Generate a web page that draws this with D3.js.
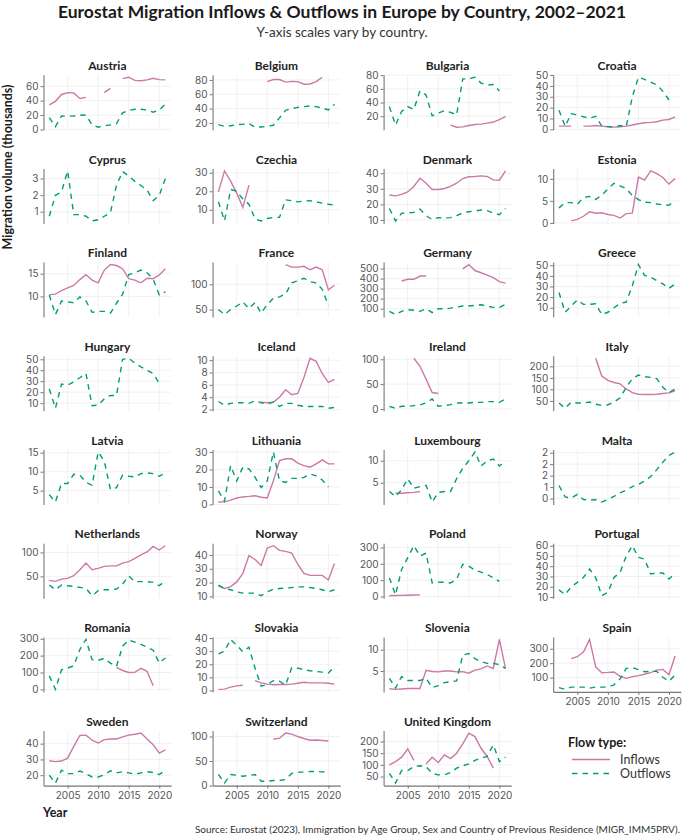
<!DOCTYPE html>
<html>
<head>
<meta charset="utf-8">
<script src="https://cdn.jsdelivr.net/npm/d3@7"></script>
<style>
	body { margin: 0; background: #fff; }
	svg text { font-family: Lato, "Noto Sans", sans-serif; }
</style>
</head>
<body>
<svg id="chart"></svg>
<script>
/* global d3 */

// Years 2002-2021, one value per year, null = no data.
const years = d3.range( 2002, 2022 );
const xTicks = [ 2005, 2010, 2015, 2020 ];

const countries = [
	'Austria', 'Belgium', 'Bulgaria', 'Croatia',
	'Cyprus', 'Czechia', 'Denmark', 'Estonia',
	'Finland', 'France', 'Germany', 'Greece',
	'Hungary', 'Iceland', 'Ireland', 'Italy',
	'Latvia', 'Lithuania', 'Luxembourg', 'Malta',
	'Netherlands', 'Norway', 'Poland', 'Portugal',
	'Romania', 'Slovakia', 'Slovenia', 'Spain',
	'Sweden', 'Switzerland', 'United Kingdom',
];

const _ = null;

const inflows = {
	Austria: [ 34, 39, 48.5, 51, 50.5, 43, 44.5, _, _, 51, 57, _, 70.5, 72.4, 68, 67.5, 68.7, 71, 69, 68.7 ],
	Belgium: [ _, _, _, _, _, _, _, _, 77.6, 80.5, 80.5, 77, 78, 77.6, 74, 74.3, 77.6, 83.8, _, _ ],
	Bulgaria: [ _, _, _, _, _, _, _, _, _, _, 7, 4, 4.5, 6.5, 8, 8.5, 10, 11.5, 15, 19.6 ],
	Croatia: [ 3, 3, 3, _, 3, 3, 3.6, 3, 2.4, 2.1, 2.4, 3, 4, 5.2, 6.1, 6.4, 7, 8.5, 9.1, 11.6 ],
	Cyprus: [ _, _, _, _, _, _, _, _, _, _, _, _, _, _, _, _, _, _, _, _ ],
	Czechia: [ 19.7, 31, 25.5, 19, 11.3, 23.3, _, _, _, _, _, _, _, _, _, _, _, _, _, _ ],
	Denmark: [ 26, 25.5, 26.4, 28, 31.5, 36.8, 33.6, 29.6, 29.6, 30.2, 31.5, 33.6, 36.6, 37.7, 37.9, 38.3, 37.9, 35.7, 35.5, 41.5 ],
	Estonia: [ _, _, 0.45, 0.8, 1.5, 2.5, 2.2, 2.3, 1.9, 1.7, 1.1, 2.1, 2.2, 10.4, 9.7, 11.8, 11.2, 10.3, 8.8, 10.1 ],
	Finland: [ 10.4, 10.5, 11.3, 11.9, 12.4, 13.7, 14.8, 13.6, 13, 15.8, 17, 16.8, 16.1, 13.9, 13.6, 13, 14, 13.9, 14.7, 16.1 ],
	France: [ _, _, _, _, _, _, _, _, _, _, _, 139, 134, 134, 135.6, 128.8, 134, 128.8, 89, 98 ],
	Germany: [ _, _, 376, 393, 393, 425, 425, _, _, _, _, _, 497, 539, 480, 458, 435, 409, 370, 354 ],
	Greece: [ _, _, _, _, _, _, _, _, _, _, _, _, _, _, _, _, _, _, _, _ ],
	Hungary: [ _, _, _, _, _, _, _, _, _, _, _, _, _, _, _, _, _, _, _, _ ],
	Iceland: [ _, _, _, _, _, _, _, 3.2, 3.1, 3.2, 4, 5.2, 4.4, 4.6, 7.2, 10.3, 9.8, 7.8, 6.4, 6.9 ],
	Ireland: [ _, _, _, _, 102, 86, 60, 33, 31, _, _, _, _, _, _, _, _, _, _, _ ],
	Italy: [ _, _, _, _, _, _, 235, 158, 139, 130, 124, 102, 86, 79, 78, 78, 79, 82, 85, 94 ],
	Latvia: [ _, _, _, _, _, _, _, _, _, _, _, _, _, _, _, _, _, _, _, _ ],
	Lithuania: [ 1.4, 1.5, 2.5, 3.7, 4.3, 4.6, 5, 4.1, 3.7, 13.5, 25.1, 26.1, 26.1, 23.6, 22.2, 21.3, 23.2, 25.5, 23.2, 23.2 ],
	Luxembourg: [ _, 2.6, 2.6, 2.7, 2.8, 3, _, _, _, _, _, _, _, _, _, _, _, _, _, _ ],
	Malta: [ _, _, _, _, _, _, _, _, _, _, _, _, _, _, _, _, _, _, _, _ ],
	Netherlands: [ 41.7, 39.6, 44.4, 45.8, 51.4, 64, 77.8, 64, 66.7, 70.8, 72, 72, 77.8, 80.6, 87.5, 95, 101, 112.5, 105, 114 ],
	Norway: [ 17.6, 15.7, 17.1, 20.5, 26.7, 39.5, 36.7, 32.4, 45, 46.7, 43.3, 42.6, 41.4, 33.1, 26.7, 25.2, 25.2, 25.2, 21.9, 33.8 ],
	Poland: [ 5, 6, 7, 8, 9, 10, _, _, _, _, _, _, _, _, _, _, _, _, _, _ ],
	Portugal: [ _, _, _, _, _, _, _, _, _, _, _, _, _, _, _, _, _, _, _, _ ],
	Romania: [ _, _, _, _, _, _, _, _, _, _, _, 130, 112, 100, 101, 125, 107, 22, _, _ ],
	Slovakia: [ 0.8, 1, 2.5, 3.5, 4, _, 7.5, 5.8, 4.8, 4.3, 4.5, 4.5, 4.8, 5.5, 6.3, 5.8, 5.8, 5.8, 5.5, 4.8 ],
	Slovenia: [ 0.85, 0.7, 0.8, 0.9, 0.9, 0.9, 5.15, 4.9, 4.8, 5, 5, 4.8, 4.85, 4.5, 5.2, 5.5, 6.2, 5.6, 12.4, 5.6 ],
	Spain: [ _, _, 232, 245, 277, 365, 175, 134, 136, 139, 109, 95, 107, 114, 123, 134, 152, 157, 120, 250 ],
	Sweden: [ 29.2, 28.6, 29, 30.8, 38.3, 45.2, 45.4, 42.2, 40.4, 42.6, 43, 43, 44.3, 45.4, 46, 46.7, 43, 39.4, 34, 36.1 ],
	Switzerland: [ _, _, _, _, _, _, _, _, _, 94.5, 96.6, 107, 105, 100, 96, 92.5, 93, 92, 91, _ ],
	'United Kingdom': [ 100, 114, 133, 169, 119, _, 104, 133, 110, 143, 127, 150, 190, 236, 221, 171, 136, 86, _, _ ],
};

const outflows = {
	Austria: [ 16.5, 4, 18.8, 18.3, 18.8, 19.7, 20, 6.4, 3.2, 5, 6.4, 8.2, 23, 26.5, 28, 28, 27, 24, 27, 35 ],
	Belgium: [ 17.6, 15.3, 16, 17.6, 18, 19, 14, 14.3, 15.3, 16.7, 27, 37.5, 40, 41.7, 42.7, 43.6, 42.7, 40.8, 38, 46 ],
	Bulgaria: [ 34, 7, 27, 34, 29.7, 57, 51, 20.6, 24.6, 28, 25.7, 22, 74.5, 74.5, 77, 68.4, 65.4, 66.4, 57, _ ],
	Croatia: [ 17.7, 2.7, 14.6, 13, 11.6, 10.4, 12, 3, 2.5, 2, 3.5, 2.5, 30, 48, 46, 43.5, 41, 35, 27, _ ],
	Cyprus: [ 0.73, 1.99, 2.2, 3.46, 0.83, 0.83, 0.73, 0.45, 0.52, 0.73, 0.94, 2.6, 3.42, 3.15, 2.83, 2.58, 2.3, 1.67, 2, 3 ],
	Czechia: [ 14.3, 4, 21, 20, 15.8, 13, 5, 4, 5.3, 5.9, 5.9, 15.4, 14.9, 14.3, 14.7, 14.9, 14.3, 13.6, 13, 12.5 ],
	Denmark: [ 17.4, 9.4, 14.3, 14.5, 14.9, 17, 12.8, 10.2, 11.5, 11.3, 11.5, 12.8, 14.5, 15.3, 15.7, 16.4, 16, 14.5, 13.4, 17.4 ],
	Estonia: [ 3.4, 4.6, 4.6, 4.2, 5.8, 6, 5.3, 6.3, 7.7, 9, 8.4, 7.8, 6.2, 5.3, 4.7, 4.6, 4.3, 4.1, 4, 5.1 ],
	Finland: [ 10.3, 6, 9, 8.8, 8.6, 9.9, 9, 6.5, 6.7, 6.7, 6.3, 8.5, 10.5, 14.8, 15.2, 15.8, 15.2, 13.8, 10.3, 11 ],
	France: [ 50, 40, 50, 57, 65, 52, 64, 43, 60, 72.6, 75, 81, 103, 107, 112, 105, 103, 90, 58, _ ],
	Germany: [ 74, 41, 74, 90, 84, 74, 100, 61, 100, 100, 106, 116, 126, 126, 132, 139, 126, 113, 113, 142 ],
	Greece: [ 24.4, 5.8, 11.6, 17.4, 13.2, 13.2, 13.8, 3.6, 5.8, 10, 14.2, 15.4, 30.8, 50.6, 40.4, 38.8, 35.6, 32.4, 28.2, 32.4 ],
	Hungary: [ 23, 5.3, 27.4, 26.5, 29.4, 33.2, 37, 7.6, 8.2, 14, 17, 17, 50, 50.9, 46.5, 43, 40, 37, 28, _ ],
	Iceland: [ 3.3, 2.7, 3, 3.1, 3.1, 3, 3.4, 3.1, 2.9, 3.2, 2.5, 3, 3, 2.7, 2.5, 2.5, 2.5, 2.5, 2.2, 2.35 ],
	Ireland: [ 5.3, 1.3, 5.3, 5.3, 6.7, 8, 12, 20, 5.3, 6.7, 8.7, 12, 12, 12, 13.3, 13.3, 14.7, 14.7, 13.3, 20 ],
	Italy: [ 41, 18, 45, 41, 41, 45, 36, 30, 33, 45, 64, 109, 147, 162, 155, 152, 147, 109, 86, 102 ],
	Latvia: [ 3.9, 2, 6.9, 6.9, 9.3, 9.1, 7.2, 6.4, 15.2, 12.8, 5.3, 5.8, 9.1, 8.8, 8.6, 9.5, 9.7, 9.5, 8.8, 9.7 ],
	Lithuania: [ 7.7, 1.9, 22.2, 13.5, 21.3, 20.3, 15.5, 9.7, 13.5, 30, 13.5, 12.6, 14.9, 14.9, 15.5, 17.4, 16.4, 14, 10, _ ],
	Luxembourg: [ 3, 1.8, 3.4, 5.9, 3.75, 4.1, 4.4, 0.6, 2.8, 3, 3, 5.9, 8.3, 10, 12, 8.8, 10, 10.4, 8.8, 10 ],
	Malta: [ 0.57, 0.07, 0.02, 0.18, -0.04, -0.07, -0.05, -0.15, -0.04, 0.1, 0.25, 0.37, 0.52, 0.62, 0.76, 0.96, 1.26, 1.59, 1.88, 2.03 ],
	Netherlands: [ 32, 22, 32, 30.6, 29, 27, 25, 9.7, 20, 22, 22, 23.6, 34, 51, 39, 39, 39, 37.5, 30.6, 41 ],
	Norway: [ 18.1, 15.7, 14.8, 13.3, 12.4, 12.4, 12.4, 10.5, 13.3, 15.2, 15.7, 16, 16.4, 16.9, 16.9, 16.4, 15.7, 14.8, 13.3, 14.8 ],
	Poland: [ 114, 10, 166, 238, 311, 248, 265, 83, 87, 87, 83, 104, 197, 186, 161, 149, 135, 114, 93, _ ],
	Portugal: [ 17, 12.3, 20, 24.3, 29, 37.3, 29, 11.3, 14.5, 29, 34, 50, 60, 48.6, 47, 32.4, 33.4, 33.4, 27.5, 33.4 ],
	Romania: [ 80, 0, 116, 126, 140, 236, 296, 176, 172, 184, 156, 136, 256, 292, 280, 266, 250, 232, 156, 186 ],
	Slovakia: [ 28, 30, 39, 34.5, 29.5, 33, 17, 3.3, 4.5, 7.5, 7, 4, 17.5, 17, 15.8, 15, 14.5, 14, 13.3, 18.3 ],
	Slovenia: [ 3.3, 1, 3.7, 2.8, 2.8, 2.8, 3.3, 1.15, 1.6, 2.3, 2.5, 2.7, 8.7, 9.1, 7.9, 7.2, 6.8, 6.8, 6.5, 5.6 ],
	Spain: [ 30, 18, 34, 34, 34, 27, 34, 34, 34, 50, 91, 164, 170, 155, 141, 143, 143, 102, 73, 118 ],
	Sweden: [ 20, 15, 23.2, 21, 21, 22.6, 21, 18.9, 18.9, 20.2, 22.8, 21.5, 22.2, 21.5, 20.6, 21.5, 22.2, 21.7, 20.4, 23.2 ],
	Switzerland: [ 22.6, 5, 22.6, 21, 19, 20.5, 22.6, 8.9, 8.9, 10.3, 10.3, 12.3, 24.7, 27.4, 27.4, 28.8, 28.8, 28, 27.4, _ ],
	'United Kingdom': [ 64, 22, 76, 76, 93, 96, 93, 64, 57, 57, 67, 86, 96, 104, 119, 129, 136, 186, 114, 133 ],
};

// y tick values per facet (free scales)
const yTicks = {
	Austria: [ 0, 20, 40, 60 ],
	Belgium: [ 20, 40, 60, 80 ],
	Bulgaria: [ 0, 20, 40, 60, 80 ],
	Croatia: [ 0, 10, 20, 30, 40, 50 ],
	Cyprus: [ 1, 2, 3 ],
	Czechia: [ 10, 20, 30 ],
	Denmark: [ 10, 20, 30, 40 ],
	Estonia: [ 0, 5, 10 ],
	Finland: [ 10, 15 ],
	France: [ 50, 100 ],
	Germany: [ 100, 200, 300, 400, 500 ],
	Greece: [ 10, 20, 30, 40, 50 ],
	Hungary: [ 10, 20, 30, 40, 50 ],
	Iceland: [ 2, 4, 6, 8, 10 ],
	Ireland: [ 0, 50, 100 ],
	Italy: [ 0, 50, 100, 150, 200 ],
	Latvia: [ 5, 10, 15 ],
	Lithuania: [ 0, 10, 20, 30 ],
	Luxembourg: [ 5, 10 ],
	Malta: [ 0, 0.5, 1, 1.5, 2 ],
	Netherlands: [ 50, 100 ],
	Norway: [ 10, 20, 30, 40 ],
	Poland: [ 0, 100, 200, 300 ],
	Portugal: [ 10, 20, 30, 40, 50, 60 ],
	Romania: [ 0, 100, 200, 300 ],
	Slovakia: [ 0, 10, 20, 30, 40 ],
	Slovenia: [ 5, 10 ],
	Spain: [ 100, 200, 300 ],
	Sweden: [ 20, 30, 40 ],
	Switzerland: [ 0, 50, 100 ],
	'United Kingdom': [ 50, 100, 150, 200 ],
};

// Malta's labels are rounded to whole numbers in the original
const maltaTickLabels = [ '0', '1', '2', '2', '2' ];

const flowTypes = [ 'Inflows', 'Outflows' ];
const flowColors = { Inflows: '#cc79a7', Outflows: '#009e73' };
const flowDash = { Inflows: null, Outflows: '5.5,5' };

/**
 * Layout
 */
const config = {
	width: 684,
	height: 836,
	cols: 4,
	colLeft: [ 43.5, 212.6, 383.6, 553.2 ],
	panelW: 127.7,
	panelH: 55,
	firstStripY: 65.7,
	rowStep: 93.7,
	tickFont: 'Inter, Lato, sans-serif',
};

const svg = d3.select( '#chart' )
	.attr( 'width', config.width )
	.attr( 'height', config.height );

// Titles
svg.append( 'text' )
	.attr( 'x', 342 )
	.attr( 'y', 18 )
	.attr( 'text-anchor', 'middle' )
	.style( 'font-size', '17.5px' )
	.style( 'font-weight', 700 )
	.attr( 'fill', '#1a1a1a' )
	.text( 'Eurostat Migration Inflows & Outflows in Europe by Country, 2002–2021' );

svg.append( 'text' )
	.attr( 'x', 342 )
	.attr( 'y', 37 )
	.attr( 'text-anchor', 'middle' )
	.style( 'font-size', '13.5px' )
	.attr( 'fill', '#333' )
	.text( 'Y-axis scales vary by country.' );

// Y axis title
svg.append( 'text' )
	.attr( 'transform', 'translate(12,167) rotate(-90)' )
	.attr( 'text-anchor', 'middle' )
	.style( 'font-size', '12.5px' )
	.style( 'font-weight', 700 )
	.attr( 'fill', '#1a1a1a' )
	.text( 'Migration volume (thousands)' );

const x = d3.scaleLinear()
	.domain( [ 2002 - 0.95, 2021 + 0.95 ] )
	.range( [ 0, config.panelW ] );

countries.forEach( ( country, i ) => {
	const col = i % config.cols;
	const row = Math.floor( i / config.cols );
	const stripY = config.firstStripY + ( row * config.rowStep );
	const g = svg.append( 'g' )
		.attr( 'transform', `translate(${ config.colLeft[ col ] },${ stripY + 9 })` );

	const series = flowTypes.map( ( flow ) => {
		const vals = flow === 'Inflows' ? inflows[ country ] : outflows[ country ];
		return { flow, points: years.map( ( yr, k ) => ( { year: yr, v: vals[ k ] } ) ) };
	} );

	const all = series.flatMap( ( s ) => s.points.map( ( p ) => p.v ) ).filter( ( v ) => v !== null );
	const [ lo, hi ] = d3.extent( all );
	const pad = ( hi - lo ) * 0.05;
	const y = d3.scaleLinear()
		.domain( [ lo - pad, hi + pad ] )
		.range( [ config.panelH, 0 ] );

	const ticks = yTicks[ country ].filter( ( t ) => t >= y.domain()[ 0 ] && t <= y.domain()[ 1 ] );

	// grid
	g.selectAll( 'line.vgrid' )
		.data( xTicks )
		.enter()
		.append( 'line' )
		.attr( 'x1', ( d ) => x( d ) )
		.attr( 'x2', ( d ) => x( d ) )
		.attr( 'y1', 0 )
		.attr( 'y2', config.panelH )
		.attr( 'stroke', '#ebebeb' )
		.attr( 'stroke-width', 0.7 );

	g.selectAll( 'line.hgrid' )
		.data( ticks )
		.enter()
		.append( 'line' )
		.attr( 'x1', 0 )
		.attr( 'x2', config.panelW )
		.attr( 'y1', ( d ) => y( d ) )
		.attr( 'y2', ( d ) => y( d ) )
		.attr( 'stroke', '#ebebeb' )
		.attr( 'stroke-width', 0.7 );

	// strip title
	g.append( 'text' )
		.attr( 'x', config.panelW / 2 )
		.attr( 'y', -9 )
		.attr( 'dy', '0.35em' )
		.attr( 'text-anchor', 'middle' )
		.style( 'font-size', '12px' )
		.style( 'font-weight', 700 )
		.attr( 'fill', '#1f1f1f' )
		.text( country );

	// y axis
	const yAxis = d3.axisLeft( y )
		.tickValues( ticks )
		.tickSize( 3 )
		.tickSizeOuter( 0 )
		.tickPadding( 2 )
		.tickFormat( ( d ) => {
			if ( country === 'Malta' ) {
				return maltaTickLabels[ yTicks.Malta.indexOf( d ) ];
			}
			return d3.format( 'd' )( d );
		} );

	const ya = g.append( 'g' ).call( yAxis );
	ya.select( '.domain' ).attr( 'stroke', '#777' ).attr( 'stroke-width', 1.1 );
	ya.selectAll( '.tick line' ).attr( 'stroke', '#777' ).attr( 'stroke-width', 1 );
	ya.selectAll( 'text' )
		.style( 'font-size', '10px' )
		.style( 'font-family', config.tickFont )
		.attr( 'fill', '#555' );

	// x axis on the last panel of each column
	if ( i + config.cols >= countries.length ) {
		const xAxis = d3.axisBottom( x )
			.tickValues( xTicks )
			.tickSize( 3 )
			.tickSizeOuter( 0 )
			.tickPadding( 3 )
			.tickFormat( d3.format( 'd' ) );
		const xa = g.append( 'g' )
			.attr( 'transform', `translate(0,${ config.panelH })` )
			.call( xAxis );
		xa.select( '.domain' ).attr( 'stroke', '#777' ).attr( 'stroke-width', 1.1 );
		xa.selectAll( '.tick line' ).attr( 'stroke', '#777' );
		xa.selectAll( 'text' )
			.style( 'font-size', '10px' )
			.style( 'font-family', config.tickFont )
			.attr( 'fill', '#555' );
	}

	const line = d3.line()
		.defined( ( d ) => d.v !== null )
		.x( ( d ) => x( d.year ) )
		.y( ( d ) => y( d.v ) );

	g.selectAll( 'path.flow' )
		.data( series )
		.enter()
		.append( 'path' )
		.attr( 'class', 'flow' )
		.attr( 'd', ( d ) => line( d.points ) )
		.attr( 'fill', 'none' )
		.attr( 'stroke', ( d ) => flowColors[ d.flow ] )
		.attr( 'stroke-width', 1.4 )
		.attr( 'stroke-dasharray', ( d ) => flowDash[ d.flow ] );
} );

// x axis title
svg.append( 'text' )
	.attr( 'x', 43 )
	.attr( 'y', 817 )
	.style( 'font-size', '12.5px' )
	.style( 'font-weight', 700 )
	.attr( 'fill', '#1a1a1a' )
	.text( 'Year' );

// Legend
const legend = svg.append( 'g' ).attr( 'transform', 'translate(568,743)' );
legend.append( 'text' )
	.attr( 'y', 0 )
	.attr( 'dy', '0.35em' )
	.style( 'font-size', '12.5px' )
	.style( 'font-weight', 700 )
	.attr( 'fill', '#1a1a1a' )
	.text( 'Flow type:' );

flowTypes.forEach( ( flow, k ) => {
	const ly = 16.5 + ( k * 14 );
	legend.append( 'line' )
		.attr( 'x1', 4 )
		.attr( 'x2', 42 )
		.attr( 'y1', ly )
		.attr( 'y2', ly )
		.attr( 'stroke', flowColors[ flow ] )
		.attr( 'stroke-width', 1.4 )
		.attr( 'stroke-dasharray', flowDash[ flow ] );
	legend.append( 'text' )
		.attr( 'x', 52 )
		.attr( 'y', ly )
		.attr( 'dy', '0.35em' )
		.style( 'font-size', '12.5px' )
		.attr( 'fill', '#333' )
		.text( flow );
} );

// Source
svg.append( 'text' )
	.attr( 'x', 680 )
	.attr( 'y', 833 )
	.attr( 'text-anchor', 'end' )
	.style( 'font-size', '10px' )
	.attr( 'fill', '#333' )
	.text( 'Source: Eurostat (2023), Immigration by Age Group, Sex and Country of Previous Residence (MIGR_IMM5PRV).' );
</script>
</body>
</html>
